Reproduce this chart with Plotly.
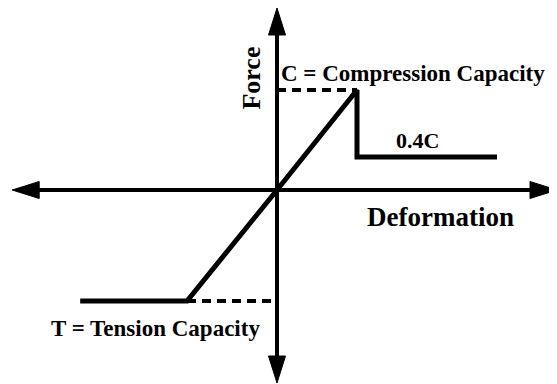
import plotly.graph_objects as go

# ---- data (deformation in units of peak deformation, force in units of C) ----
DEFORMATION = [-2.46, -1.125, 0.0, 1.0, 1.0, 2.75]
FORCE = [-1.11, -1.11, 0.0, 1.0, 0.33, 0.33]

C_REF_X = [0.0, 1.0]
C_REF_Y = [1.0, 1.0]
T_REF_X = [-1.125, 0.0]
T_REF_Y = [-1.11, -1.11]

X_AXIS_EXTENT = [-3.31, 3.5]
Y_AXIS_EXTENT = [-1.93, 1.82]

LABEL_FORCE = "Force"
LABEL_DEFORMATION = "Deformation"
LABEL_C = "C = Compression Capacity"
LABEL_T = "T = Tension Capacity"
LABEL_RESIDUAL = "0.4C"

# ---- layout / style ----
# the page body adds an 8px offset, so the figure is drawn 8px smaller
W, H = 549, 376
X_RANGE = [-3.3625, 3.5]
Y_RANGE = [-1.94, 1.82]
PX_X = W / (X_RANGE[1] - X_RANGE[0])
PX_Y = H / (Y_RANGE[1] - Y_RANGE[0])
HEAD_LEN = 27
HEAD_HALF = 8.5
FONT = "Liberation Serif"

fig = go.Figure()

# axis shafts
hl_x = HEAD_LEN / PX_X
hl_y = HEAD_LEN / PX_Y
hw_x = HEAD_HALF / PX_X
hw_y = HEAD_HALF / PX_Y
fig.add_trace(go.Scatter(x=[X_AXIS_EXTENT[0] + hl_x * 0.8, X_AXIS_EXTENT[1] - hl_x * 0.8], y=[0, 0],
                         mode="lines", line=dict(color="black", width=4), hoverinfo="skip",
                         cliponaxis=False))
fig.add_trace(go.Scatter(x=[0, 0], y=[Y_AXIS_EXTENT[0] + hl_y * 0.8, Y_AXIS_EXTENT[1] - hl_y * 0.8],
                         mode="lines", line=dict(color="black", width=4), hoverinfo="skip",
                         cliponaxis=False))

# arrowheads
heads = [
    ([X_AXIS_EXTENT[1], X_AXIS_EXTENT[1] - hl_x, X_AXIS_EXTENT[1] - hl_x, X_AXIS_EXTENT[1]], [0, hw_y, -hw_y, 0]),
    ([X_AXIS_EXTENT[0], X_AXIS_EXTENT[0] + hl_x, X_AXIS_EXTENT[0] + hl_x, X_AXIS_EXTENT[0]], [0, hw_y, -hw_y, 0]),
    ([0, hw_x, -hw_x, 0], [Y_AXIS_EXTENT[1], Y_AXIS_EXTENT[1] - hl_y, Y_AXIS_EXTENT[1] - hl_y, Y_AXIS_EXTENT[1]]),
    ([0, hw_x, -hw_x, 0], [Y_AXIS_EXTENT[0], Y_AXIS_EXTENT[0] + hl_y, Y_AXIS_EXTENT[0] + hl_y, Y_AXIS_EXTENT[0]]),
]
for hx, hy in heads:
    fig.add_trace(go.Scatter(x=hx, y=hy, mode="lines", fill="toself", fillcolor="black",
                             line=dict(color="black", width=1), hoverinfo="skip"))

# reference dashed lines
fig.add_trace(go.Scatter(x=C_REF_X, y=C_REF_Y, mode="lines",
                         line=dict(color="black", width=4, dash="9px,6px"), hoverinfo="skip"))
fig.add_trace(go.Scatter(x=T_REF_X, y=T_REF_Y, mode="lines",
                         line=dict(color="black", width=4, dash="9px,6px"), hoverinfo="skip"))

# force-deformation curve
fig.add_trace(go.Scatter(x=DEFORMATION, y=FORCE, mode="lines",
                         line=dict(color="black", width=5), hoverinfo="skip"))

bold = dict(family=FONT, color="black")
fig.add_annotation(x=-0.33, y=1.12, text=f"<b>{LABEL_FORCE}</b>", textangle=-90, showarrow=False,
                   font=dict(size=26, **bold))
fig.add_annotation(x=0.03, y=1.17, text=f"<b>{LABEL_C}</b>", xanchor="left", showarrow=False,
                   font=dict(size=23, **bold))
fig.add_annotation(x=1.76, y=0.5, text=f"<b>{LABEL_RESIDUAL}</b>", showarrow=False,
                   font=dict(size=22, **bold))
fig.add_annotation(x=2.04, y=-0.27, text=f"<b>{LABEL_DEFORMATION}</b>", showarrow=False,
                   font=dict(size=27, **bold))
fig.add_annotation(x=-1.525, y=-1.38, text=f"<b>{LABEL_T}</b>", showarrow=False,
                   font=dict(size=23, **bold))

fig.update_layout(
    width=W, height=H, margin=dict(l=0, r=0, t=0, b=0),
    paper_bgcolor="white", plot_bgcolor="white", showlegend=False,
    xaxis=dict(range=X_RANGE, visible=False, fixedrange=True),
    yaxis=dict(range=Y_RANGE, visible=False, fixedrange=True),
)
fig.write_html("out.html")
